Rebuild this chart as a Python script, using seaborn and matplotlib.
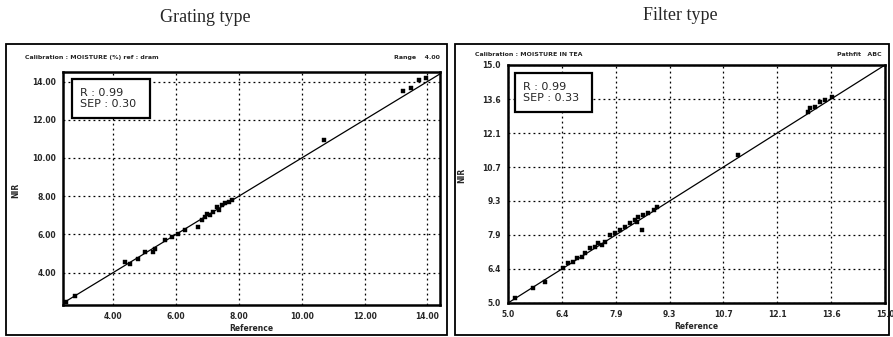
import numpy as np
import pandas as pd
import matplotlib
matplotlib.use("Agg")
import matplotlib.pyplot as plt
from matplotlib.patches import Rectangle
import seaborn as sns

# ---------------- data ----------------
panel_titles = ["Grating type", "Filter type"]
stats_text = ["R : 0.99\nSEP : 0.30", "R : 0.99\nSEP : 0.33"]
header_left = ["Calibration : MOISTURE (%) ref : dram", "Calibration : MOISTURE IN TEA"]
header_right = ["Range    4.00", "Pathfit   ABC"]

grating_ref = [2.50, 2.77, 4.37, 4.53, 4.80, 5.01, 5.28, 5.33, 5.65, 5.86, 6.07, 6.29,
               6.71, 6.82, 6.93, 6.98, 7.09, 7.19, 7.30, 7.35, 7.46, 7.57, 7.67, 7.78,
               10.70, 13.21, 13.48, 13.74, 13.96]
grating_nir = [2.45, 2.79, 4.54, 4.46, 4.72, 5.07, 5.07, 5.25, 5.68, 5.86, 6.04, 6.21,
               6.38, 6.74, 6.91, 7.09, 7.00, 7.17, 7.44, 7.26, 7.53, 7.62, 7.70, 7.79,
               10.95, 13.49, 13.67, 14.10, 14.19]

filter_ref = [5.19, 5.67, 5.98, 6.47, 6.60, 6.73, 6.82, 6.95, 7.04, 7.18, 7.31, 7.40,
              7.49, 7.57, 7.71, 7.84, 7.97, 8.10, 8.24, 8.37, 8.41, 8.46, 8.55, 8.59,
              8.72, 8.86, 8.94, 11.11, 12.97, 13.01, 13.14, 13.28, 13.41, 13.59]
filter_nir = [5.20, 5.62, 5.90, 6.46, 6.67, 6.74, 6.88, 6.95, 7.09, 7.30, 7.37, 7.51,
              7.44, 7.58, 7.86, 7.93, 8.07, 8.21, 8.35, 8.49, 8.42, 8.63, 8.07, 8.70,
              8.77, 8.91, 9.05, 11.22, 13.04, 13.18, 13.25, 13.46, 13.53, 13.67]

grating_xticks = [4.0, 6.0, 8.0, 10.0, 12.0, 14.0]
grating_yticks = [4.0, 6.0, 8.0, 10.0, 12.0, 14.0]
filter_ticks = [5.0, 6.43, 7.86, 9.29, 10.71, 12.14, 13.57, 15.0]

# ---------------- style ----------------
sns.set_style("white")
plt.rcParams["font.family"] = ["DejaVu Sans"]

fig = plt.figure(figsize=(8.93, 3.37), dpi=100)
W, H = 893.0, 337.0

def fx(px):
    return px / W

def fy(py):
    return 1 - py / H

# outer frames
for (x0, x1) in [(6, 447), (455, 889)]:
    fig.patches.append(Rectangle((fx(x0), fy(335)), fx(x1) - fx(x0), fy(44) - fy(335),
                                 transform=fig.transFigure, fill=False,
                                 edgecolor="black", linewidth=1.3))

# titles
fig.text(fx(205), fy(18), panel_titles[0], ha="center", va="center",
         family=["Liberation Serif", "DejaVu Serif"], fontsize=13)
fig.text(fx(680), fy(15), panel_titles[1], ha="center", va="center",
         family=["Liberation Serif", "DejaVu Serif"], fontsize=13)

axes_boxes = [(63, 440, 72, 305), (508, 885, 65, 303)]
datasets = [
    pd.DataFrame({"Reference": grating_ref, "NIR": grating_nir}),
    pd.DataFrame({"Reference": filter_ref, "NIR": filter_nir}),
]
limits = [((2.4, 14.4), (2.3, 14.5)), ((5.0, 15.0), (5.0, 15.0))]
xticks_l = [grating_xticks, filter_ticks]
yticks_l = [grating_yticks, filter_ticks]
fmts = ["{:.2f}", "{:.1f}"]
header_pos = [(25, 165, 440, 58), (475, 612, 882, 55)]
box_pos = [(72, 79, 150, 118), (515, 73, 592, 112)]

for i in range(2):
    x0, x1, y0, y1 = axes_boxes[i]
    ax = fig.add_axes([fx(x0), fy(y1), fx(x1) - fx(x0), fy(y0) - fy(y1)])
    ax.set_xlim(*limits[i][0])
    ax.set_ylim(*limits[i][1])
    ax.axline((limits[i][0][0], limits[i][0][0]), slope=1, color="black", lw=0.9, zorder=2)
    sns.scatterplot(data=datasets[i], x="Reference", y="NIR", ax=ax, marker="s",
                    s=9, color="black", edgecolor="black", linewidth=0.3, zorder=3)
    ax.set_xticks(xticks_l[i])
    ax.set_yticks(yticks_l[i])
    ax.set_xticklabels([fmts[i].format(v) for v in xticks_l[i]], fontsize=5.5, fontweight="bold")
    ax.set_yticklabels([fmts[i].format(v) for v in yticks_l[i]], fontsize=5.5, fontweight="bold")
    ax.tick_params(direction="out", length=3, width=1, pad=2, color="black")
    ax.grid(True, color="black", linestyle=(0, (1.5, 2.5)), linewidth=0.9)
    for sp in ax.spines.values():
        sp.set_color("black")
        sp.set_linewidth(1.8)
    ax.set_xlabel("Reference", fontsize=5.5, fontweight="bold", labelpad=2)
    ax.set_ylabel("")
    # header texts
    hx0, hx1, hx2, hy = header_pos[i]
    fig.text(fx(hx0), fy(hy), header_left[i], fontsize=4.5, fontweight="bold", va="center")
    fig.text(fx(hx2), fy(hy), header_right[i], fontsize=4.5, fontweight="bold",
             va="center", ha="right")
    # stats box
    bx0, by0, bx1, by1 = box_pos[i]
    fig.patches.append(Rectangle((fx(bx0), fy(by1)), fx(bx1) - fx(bx0), fy(by0) - fy(by1),
                                 transform=fig.transFigure, facecolor="white",
                                 edgecolor="black", linewidth=1.6, zorder=5))
    fig.text(fx(bx0 + 8), fy((by0 + by1) / 2), stats_text[i], fontsize=8,
             va="center", ha="left", zorder=6, linespacing=1.05)

# y-axis labels
fig.text(fx(16), fy(190), "NIR", rotation=90, fontsize=5.5, fontweight="bold",
         ha="center", va="center")
fig.text(fx(462), fy(175), "NIR", rotation=90, fontsize=5.5, fontweight="bold",
         ha="center", va="center")

fig.savefig("out.png", dpi=100)
